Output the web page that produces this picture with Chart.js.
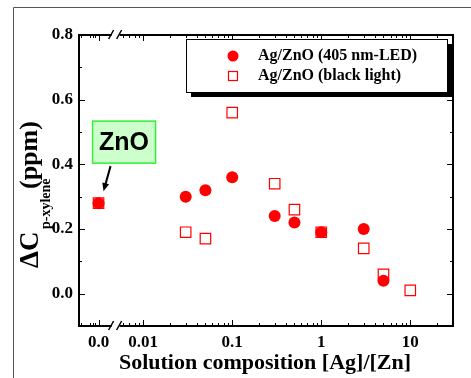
<!DOCTYPE html>
<html>
<head>
<meta charset="utf-8">
<script src="https://cdn.jsdelivr.net/npm/chart.js@4.4.0/dist/chart.umd.min.js"></script>
<style>
  html, body { margin: 0; padding: 0; background: #fff; }
  #wrap { width: 471px; height: 378px; }
</style>
</head>
<body>
<div id="wrap"><canvas id="chart" width="471" height="378"></canvas></div>
<script>
// Komposisi larutan [Ag]/[Zn]; 0 = ZnO murni (digambar di segmen kiri sebelum patahan sumbu)
const compLED = [0, 0.03, 0.05, 0.1, 0.3, 0.5, 1, 3, 5];
const dcLED   = [0.28, 0.30, 0.32, 0.36, 0.24, 0.22, 0.19, 0.20, 0.04];
const compBL  = [0, 0.03, 0.05, 0.1, 0.3, 0.5, 1, 3, 5, 10];
const dcBL    = [0.28, 0.19, 0.17, 0.56, 0.34, 0.26, 0.19, 0.14, 0.06, 0.01];

const seriesNames = ['Ag/ZnO (405 nm-LED)', 'Ag/ZnO (black light)'];

const xTickValues = [0, 0.01, 0.1, 1, 10];
const xTickLabels = ['0.0', '0.01', '0.1', '1', '10'];
const yTickValues = [0.0, 0.2, 0.4, 0.6, 0.8];
const yTickLabels = ['0.0', '0.2', '0.4', '0.6', '0.8'];
const yMinorTicks = [0.1, 0.3, 0.5, 0.7];
const xMinorLeft  = [0.002, 0.0025, 0.0027, 0.0029];

// Sumbu log dengan segmen palsu untuk "0.0"
const X_MIN = 0.0019;
const X_MAX = 30.2;
const ZNO_X = 0.00315;
const BREAK_X = 0.0049;
const Y_MIN = -0.1;
const Y_MAX = 0.8;

const SERIF = '"Liberation Serif", "Times New Roman", serif';

function toAxisX(v) {
    return v === 0 ? ZNO_X : v;
}

// minor tick log standar di kanan patahan
const xMinorRight = [];
[0.001, 0.01, 0.1, 1, 10].forEach(dec => {
    for (let k = 2; k <= 9; k++) {
        const v = k * dec;
        if (v > 0.0055 && v < X_MAX) xMinorRight.push(v);
    }
});

const frameAxes = {
    id: 'frameAxes',
    beforeDraw(chart) {
        const ctx = chart.ctx;
        ctx.save();
        ctx.fillStyle = '#fff';
        ctx.fillRect(0, 0, chart.width, chart.height);
        // bingkai luar tipis
        ctx.strokeStyle = '#555';
        ctx.lineWidth = 1;
        ctx.beginPath();
        ctx.moveTo(13.5, 378);
        ctx.lineTo(13.5, 7.5);
        ctx.lineTo(471, 7.5);
        ctx.stroke();
        ctx.restore();
    },
    afterDatasetsDraw(chart) {
        const ctx = chart.ctx;
        const a = chart.chartArea;
        const x = chart.scales.x;
        const y = chart.scales.y;
        ctx.save();
        ctx.strokeStyle = '#000';
        ctx.lineWidth = 1;

        function xTick(v, len) {
            const px = Math.round(x.getPixelForValue(v)) + 0.5;
            ctx.beginPath();
            ctx.moveTo(px, a.bottom); ctx.lineTo(px, a.bottom - len);
            ctx.moveTo(px, a.top); ctx.lineTo(px, a.top + len);
            ctx.stroke();
        }
        function yTick(v, len) {
            const py = Math.round(y.getPixelForValue(v)) + 0.5;
            ctx.beginPath();
            ctx.moveTo(a.left, py); ctx.lineTo(a.left + len, py);
            ctx.moveTo(a.right, py); ctx.lineTo(a.right - len, py);
            ctx.stroke();
        }
        xTickValues.forEach(v => xTick(toAxisX(v), 6));
        xMinorLeft.concat(xMinorRight).forEach(v => xTick(v, 3));
        yTickValues.forEach(v => yTick(v, 6));
        yMinorTicks.forEach(v => yTick(v, 3));

        // bingkai plot
        ctx.lineWidth = 2;
        ctx.strokeRect(a.left, a.top, a.right - a.left, a.bottom - a.top);

        // patahan sumbu x (atas dan bawah)
        const bx = x.getPixelForValue(BREAK_X);
        [a.top, a.bottom].forEach(by => {
            ctx.fillStyle = '#fff';
            ctx.fillRect(bx - 4, by - 2, 8, 4);
            ctx.lineWidth = 1.5;
            ctx.beginPath();
            ctx.moveTo(bx - 7, by + 4); ctx.lineTo(bx - 2, by - 5);
            ctx.moveTo(bx + 1, by + 4); ctx.lineTo(bx + 6, by - 5);
            ctx.stroke();
        });
        ctx.restore();
    },
    afterDraw(chart) {
        const ctx = chart.ctx;
        const x = chart.scales.x;
        const y = chart.scales.y;
        ctx.save();

        // legenda dengan bayangan
        const L = 186, T = 39, W = 261, H = 53;
        ctx.fillStyle = '#000';
        ctx.fillRect(L + 5, T + 5, W, H);
        ctx.fillStyle = '#fff';
        ctx.fillRect(L, T, W, H);
        ctx.strokeStyle = '#000';
        ctx.lineWidth = 1;
        ctx.strokeRect(L + 0.5, T + 0.5, W, H);

        ctx.fillStyle = '#ff0000';
        ctx.beginPath();
        ctx.arc(233, 56, 5.5, 0, Math.PI * 2);
        ctx.fill();
        ctx.strokeStyle = '#ff0000';
        ctx.lineWidth = 1.2;
        ctx.strokeRect(228.5, 71.5, 9, 9);

        ctx.fillStyle = '#000';
        ctx.font = 'bold 16px ' + SERIF;
        ctx.textAlign = 'left';
        ctx.textBaseline = 'middle';
        ctx.fillText(seriesNames[0], 258, 56);
        ctx.fillText(seriesNames[1], 258, 76);

        // judul sumbu x
        ctx.font = 'bold 22px ' + SERIF;
        ctx.textAlign = 'center';
        ctx.textBaseline = 'alphabetic';
        ctx.fillText('Solution composition [Ag]/[Zn]', 265, 369);

        // judul sumbu y dengan subskrip
        ctx.save();
        ctx.translate(38, 268);
        ctx.rotate(-Math.PI / 2);
        ctx.textAlign = 'left';
        ctx.font = 'bold 27px ' + SERIF;
        ctx.fillText('\u0394C', 0, 0);
        ctx.font = 'bold 14px ' + SERIF;
        ctx.fillText('p-xylene', 39, 12);
        ctx.font = 'bold 26px ' + SERIF;
        ctx.fillText('(ppm)', 79, -1);
        ctx.restore();

        // anotasi ZnO
        const px = x.getPixelForValue(ZNO_X);
        const py = y.getPixelForValue(dcLED[0]);
        ctx.fillStyle = '#ccffcc';
        ctx.fillRect(px - 6, py - 82, 63, 42);
        ctx.strokeStyle = '#33ee33';
        ctx.lineWidth = 1.5;
        ctx.strokeRect(px - 6, py - 82, 63, 42);
        ctx.fillStyle = '#000';
        ctx.font = 'bold 25px "Liberation Sans", Arial, sans-serif';
        ctx.textAlign = 'center';
        ctx.textBaseline = 'middle';
        ctx.fillText('ZnO', px + 25.5, py - 60);

        // panah
        const x0 = px + 12, y0 = py - 37, x1 = px + 5, y1 = py - 12;
        const ang = Math.atan2(y1 - y0, x1 - x0);
        ctx.strokeStyle = '#000';
        ctx.lineWidth = 2;
        ctx.beginPath();
        ctx.moveTo(x0, y0);
        ctx.lineTo(x1 - 6 * Math.cos(ang), y1 - 6 * Math.sin(ang));
        ctx.stroke();
        ctx.beginPath();
        ctx.moveTo(x1, y1);
        ctx.lineTo(x1 - 8 * Math.cos(ang) + 3.5 * Math.sin(ang), y1 - 8 * Math.sin(ang) - 3.5 * Math.cos(ang));
        ctx.lineTo(x1 - 8 * Math.cos(ang) - 3.5 * Math.sin(ang), y1 - 8 * Math.sin(ang) + 3.5 * Math.cos(ang));
        ctx.closePath();
        ctx.fill();

        ctx.restore();
    }
};

const tickFont = { family: SERIF, size: 17, weight: 'bold' };

new Chart(document.getElementById('chart'), {
    type: 'scatter',
    data: {
        datasets: [
            {
                label: seriesNames[0],
                data: compLED.map((c, i) => ({ x: toAxisX(c), y: dcLED[i] })),
                pointStyle: 'circle',
                pointRadius: 6,
                backgroundColor: '#ff0000',
                borderColor: '#ff0000',
                borderWidth: 0
            },
            {
                label: seriesNames[1],
                data: compBL.map((c, i) => ({ x: toAxisX(c), y: dcBL[i] })),
                pointStyle: 'rect',
                pointRadius: 7.4,
                backgroundColor: 'rgba(0,0,0,0)',
                borderColor: '#ff0000',
                borderWidth: 1.2
            }
        ]
    },
    options: {
        responsive: false,
        animation: false,
        layout: { padding: { left: 0, top: 35, right: 18, bottom: 0 } },
        plugins: {
            legend: { display: false },
            tooltip: { enabled: false }
        },
        scales: {
            x: {
                type: 'logarithmic',
                min: X_MIN,
                max: X_MAX,
                grid: { display: false, drawTicks: false },
                border: { display: false },
                afterBuildTicks: s => { s.ticks = xTickValues.map(v => ({ value: toAxisX(v) })); },
                afterFit: s => { s.height = 52; },
                ticks: {
                    autoSkip: false,
                    maxRotation: 0,
                    padding: 6,
                    color: '#000',
                    font: tickFont,
                    callback: (v, i) => xTickLabels[i]
                }
            },
            y: {
                min: Y_MIN,
                max: Y_MAX,
                grid: { display: false, drawTicks: false },
                border: { display: false },
                afterBuildTicks: s => { s.ticks = yTickValues.map(v => ({ value: v })); },
                afterFit: s => { s.width = 79; },
                ticks: {
                    autoSkip: false,
                    padding: 6,
                    color: '#000',
                    font: tickFont,
                    callback: (v, i) => yTickLabels[i]
                }
            }
        }
    },
    plugins: [frameAxes]
});
</script>
</body>
</html>
